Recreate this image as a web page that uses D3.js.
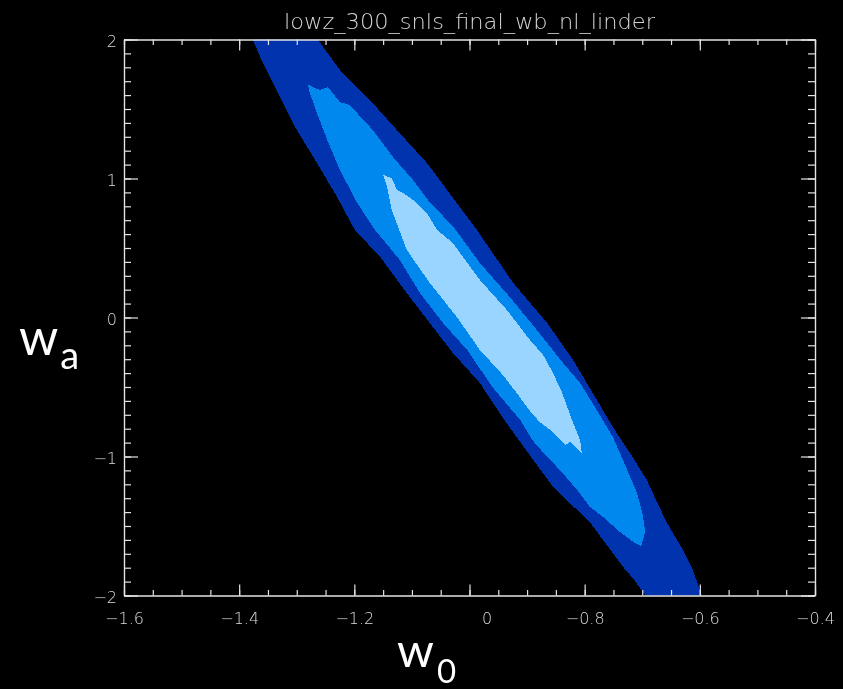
<!DOCTYPE html>
<html>
<head>
<meta charset="utf-8">
<script src="https://cdn.jsdelivr.net/npm/d3@7"></script>
<style>
  html, body { margin: 0; padding: 0; background: #000; }
  svg { display: block; will-change: transform; }
  svg text { -webkit-font-smoothing: antialiased; }
</style>
</head>
<body>
<svg id="chart" width="843" height="689"></svg>
<script>
// Axis ticks and labels
const w0Ticks = [-1.6, -1.4, -1.2, -1.0, -0.8, -0.6, -0.4];
const w0TickLabels = ["\u22121.6", "\u22121.4", "\u22121.2", "0", "\u22120.8", "\u22120.6", "\u22120.4"];
const waTicks = [-2, -1, 0, 1, 2];
const waTickLabels = ["\u22122", "\u22121", "0", "1", "2"];

const chartTitle = "lowz_300_snls_final_wb_nl_linder";

// Confidence contours in (w0, wa): outer, middle, inner
const contourOuter = [
  [-1.383, 2.083], [-1.376, 1.996], [-1.359, 1.831], [-1.329, 1.586], [-1.300, 1.349],
  [-1.265, 1.112], [-1.230, 0.867], [-1.199, 0.629], [-1.155, 0.435], [-1.109, 0.176],
  [-1.069, -0.040], [-1.029, -0.255], [-0.982, -0.471], [-0.942, -0.723], [-0.912, -0.896],
  [-0.883, -1.061], [-0.857, -1.205], [-0.831, -1.313], [-0.808, -1.406], [-0.787, -1.493],
  [-0.768, -1.601], [-0.733, -1.795], [-0.714, -1.889], [-0.695, -1.996], [-0.688, -2.083],
  [-0.588, -2.083], [-0.596, -1.996], [-0.600, -1.960], [-0.612, -1.817], [-0.629, -1.673],
  [-0.657, -1.478], [-0.676, -1.313], [-0.692, -1.169], [-0.721, -0.975], [-0.751, -0.788],
  [-0.786, -0.543], [-0.820, -0.306], [-0.865, -0.040], [-0.924, 0.248], [-0.987, 0.629],
  [-1.048, 0.968], [-1.074, 1.112], [-1.126, 1.349], [-1.173, 1.565], [-1.225, 1.781],
  [-1.263, 1.996], [-1.277, 2.083]
];

const contourMiddle = [
  [-1.280, 1.673], [-1.260, 1.637], [-1.246, 1.658], [-1.225, 1.550], [-1.208, 1.529],
  [-1.168, 1.349], [-1.133, 1.155], [-1.098, 0.989], [-1.072, 0.845], [-1.025, 0.637],
  [-0.982, 0.392], [-0.930, 0.147], [-0.883, -0.090], [-0.839, -0.320], [-0.808, -0.471],
  [-0.779, -0.665], [-0.751, -0.860], [-0.726, -1.097], [-0.709, -1.263], [-0.699, -1.421],
  [-0.695, -1.543], [-0.702, -1.644], [-0.713, -1.622], [-0.739, -1.543], [-0.768, -1.435],
  [-0.791, -1.363], [-0.813, -1.241], [-0.843, -1.097], [-0.865, -1.004], [-0.891, -0.881],
  [-0.912, -0.737], [-0.959, -0.507], [-1.004, -0.234], [-1.046, -0.040], [-1.086, 0.176],
  [-1.121, 0.414], [-1.164, 0.629], [-1.195, 0.824], [-1.225, 1.061], [-1.247, 1.277],
  [-1.265, 1.471], [-1.279, 1.637]
];

const contourInner = [
  [-1.150, 1.025], [-1.135, 1.004], [-1.126, 0.917], [-1.115, 0.896], [-1.098, 0.845],
  [-1.074, 0.752], [-1.056, 0.629], [-1.029, 0.536], [-0.982, 0.270], [-0.935, 0.054],
  [-0.895, -0.162], [-0.872, -0.270], [-0.855, -0.399], [-0.839, -0.543], [-0.822, -0.737],
  [-0.808, -0.881], [-0.805, -0.975], [-0.815, -0.939], [-0.825, -0.896], [-0.834, -0.917],
  [-0.860, -0.809], [-0.878, -0.752], [-0.895, -0.673], [-0.918, -0.543], [-0.942, -0.414],
  [-0.982, -0.234], [-1.022, 0.004], [-1.069, 0.248], [-1.109, 0.486], [-1.135, 0.773],
  [-1.143, 0.939]
];

const contourLevels = [
  { name: "outer", points: contourOuter, color: "#0033ad" },
  { name: "middle", points: contourMiddle, color: "#0088ee" },
  { name: "inner", points: contourInner, color: "#99d5ff" }
];

const svg = d3.select("#chart");
const frame = { left: 124, right: 815, top: 39.5, bottom: 595.5 };

const x = d3.scaleLinear().domain([-1.6, -0.4]).range([frame.left, frame.right]);
const y = d3.scaleLinear().domain([-2, 2]).range([frame.bottom, frame.top]);

svg.append("rect").attr("width", 843).attr("height", 689).attr("fill", "#000");

// Clip to plot box
svg.append("defs").append("clipPath").attr("id", "plotClip")
  .append("rect")
  .attr("x", frame.left).attr("y", frame.top)
  .attr("width", frame.right - frame.left).attr("height", frame.bottom - frame.top);

const line = d3.line().x(d => x(d[0])).y(d => y(d[1])).curve(d3.curveLinear);

svg.append("g").attr("clip-path", "url(#plotClip)")
  .selectAll("path")
  .data(contourLevels)
  .join("path")
  .attr("d", d => line(d.points) + "Z")
  .attr("fill", d => d.color)
  .attr("stroke", "none")
  .attr("shape-rendering", "crispEdges");

// Axes
const axisColor = "#e4e4e4";
const labelFont = "'DejaVu Sans', 'Liberation Sans', sans-serif";
const xMajor = 11, xMinor = 5.5, yMajor = 14, yMinor = 7;

function styleAxis(g) {
  g.selectAll(".domain").attr("stroke", axisColor).attr("stroke-width", 1.2);
  g.selectAll(".tick line").attr("stroke", axisColor).attr("stroke-width", 1.2);
  g.selectAll(".tick text").attr("fill", "#dcdcdc")
    .attr("font-family", labelFont).attr("font-weight", 200).attr("font-size", 16);
}

const xMinorTicks = x.ticks(24);
const yMinorTicks = y.ticks(40);

// bottom
svg.append("g").attr("transform", `translate(0,${frame.bottom})`)
  .call(d3.axisBottom(x).tickValues(xMinorTicks).tickSize(-xMinor).tickSizeOuter(0).tickFormat(""))
  .call(styleAxis);
const gBottom = svg.append("g").attr("transform", `translate(0,${frame.bottom})`)
  .call(d3.axisBottom(x).tickValues(w0Ticks).tickSize(-xMajor).tickSizeOuter(0)
    .tickPadding(17).tickFormat((d, i) => w0TickLabels[i]))
  .call(styleAxis);
gBottom.selectAll(".tick text").filter((d, i) => w0TickLabels[i] === "0").attr("dx", 17);

// top
svg.append("g").attr("transform", `translate(0,${frame.top})`)
  .call(d3.axisTop(x).tickValues(xMinorTicks).tickSize(-xMinor).tickSizeOuter(0).tickFormat(""))
  .call(styleAxis);
svg.append("g").attr("transform", `translate(0,${frame.top})`)
  .call(d3.axisTop(x).tickValues(w0Ticks).tickSize(-xMajor).tickSizeOuter(0).tickFormat(""))
  .call(styleAxis);

// left
svg.append("g").attr("transform", `translate(${frame.left},0)`)
  .call(d3.axisLeft(y).tickValues(yMinorTicks).tickSize(-yMinor).tickSizeOuter(0).tickFormat(""))
  .call(styleAxis);
const gLeft = svg.append("g").attr("transform", `translate(${frame.left},0)`)
  .call(d3.axisLeft(y).tickValues(waTicks).tickSize(-yMajor).tickSizeOuter(0)
    .tickPadding(7).tickFormat((d, i) => waTickLabels[i]))
  .call(styleAxis);
gLeft.selectAll(".tick text").attr("dy", "0.45em");

// right
svg.append("g").attr("transform", `translate(${frame.right},0)`)
  .call(d3.axisRight(y).tickValues(yMinorTicks).tickSize(-yMinor).tickSizeOuter(0).tickFormat(""))
  .call(styleAxis);
svg.append("g").attr("transform", `translate(${frame.right},0)`)
  .call(d3.axisRight(y).tickValues(waTicks).tickSize(-yMajor).tickSizeOuter(0).tickFormat(""))
  .call(styleAxis);

// Title
svg.append("text")
  .attr("x", (frame.left + frame.right) / 2)
  .attr("y", 29)
  .attr("text-anchor", "middle")
  .attr("font-family", labelFont)
  .attr("font-weight", 200)
  .attr("font-size", 22)
  .attr("fill", "#d4d4d4")
  .attr("textLength", 371)
  .attr("lengthAdjust", "spacingAndGlyphs")
  .text(chartTitle);

// Axis titles
const titleFont = "Lato, 'Open Sans', sans-serif";
const xTitle = svg.append("text")
  .attr("x", 397).attr("y", 667)
  .attr("font-family", titleFont).attr("fill", "#fff");
xTitle.append("tspan").attr("font-size", 47).text("w");
xTitle.append("tspan").attr("font-size", 33).attr("dx", 3).attr("dy", 16).text("0");

const yTitle = svg.append("text")
  .attr("x", 19).attr("y", 355)
  .attr("font-family", titleFont).attr("fill", "#fff");
yTitle.append("tspan").attr("font-size", 50).text("w");
yTitle.append("tspan").attr("font-size", 38).attr("dx", 2).attr("dy", 14).text("a");
</script>
</body>
</html>
